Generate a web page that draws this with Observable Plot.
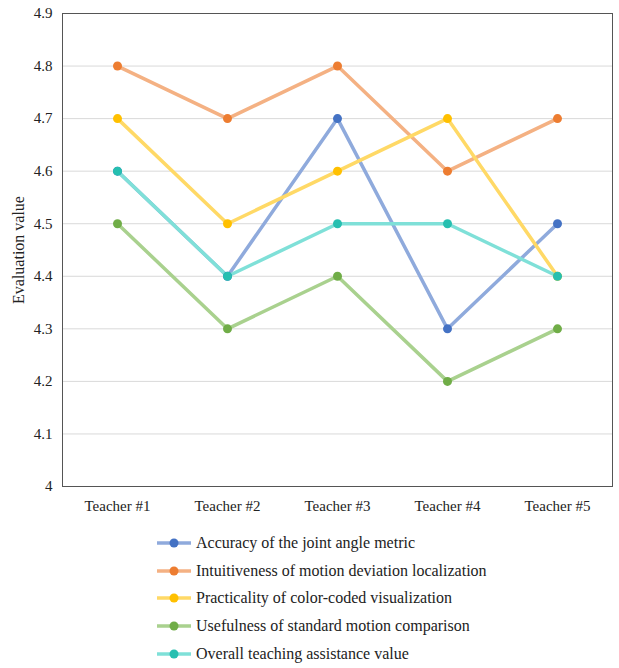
<!DOCTYPE html>
<html><head>
<script src="https://cdn.jsdelivr.net/npm/d3@7"></script>
<script src="https://cdn.jsdelivr.net/npm/@observablehq/plot@0.6"></script>
<style>
body{margin:0;background:#fff;font-family:"Liberation Serif",serif;}
#legend{margin-left:156px;margin-top:4px}
.item{display:flex;align-items:center;height:27.8px;font-size:16px;color:#222}
.item svg{margin-right:4px}
</style></head><body>
<div id="chart"></div><div id="legend"></div>
<script>
const teachers=["Teacher #1","Teacher #2","Teacher #3","Teacher #4","Teacher #5"];
const seriesNames=["Accuracy of the joint angle metric","Intuitiveness of motion deviation localization","Practicality of color-coded visualization","Usefulness of standard motion comparison","Overall teaching assistance value"];
const accuracy=[4.6,4.4,4.7,4.3,4.5];
const intuitiveness=[4.8,4.7,4.8,4.6,4.7];
const practicality=[4.7,4.5,4.6,4.7,4.4];
const usefulness=[4.5,4.3,4.4,4.2,4.3];
const overall=[4.6,4.4,4.5,4.5,4.4];
const lineColors=["#8faadc","#f4b183","#ffd966","#a9d18e","#7fe0d8"];
const dotColors=["#4472c4","#ed7d31","#ffc000","#70ad47","#26bfb0"];
const all=[accuracy,intuitiveness,practicality,usefulness,overall];
const data=[];
all.forEach((arr,s)=>arr.forEach((v,i)=>data.push({s:seriesNames[s],t:teachers[i],v})));
const chart=Plot.plot({
 width:619,height:525,marginTop:13,marginBottom:39,marginLeft:62,marginRight:7,
 style:{fontFamily:"Liberation Serif",fontSize:"15px",color:"#222"},
 x:{type:"point",domain:teachers,padding:0.5,label:null,tickSize:0,tickPadding:14},
 y:{domain:[4,4.9],ticks:d3.range(4,4.91,0.1),tickFormat:d=>d3.format("~g")(Math.round(d*10)/10),label:"Evaluation value",labelAnchor:"center",labelArrow:"none",tickSize:0,tickPadding:10,labelOffset:50},
 marks:[
  Plot.gridY(d3.range(4.1,4.91,0.1),{stroke:"#d9d9d9",strokeOpacity:1}),
  Plot.frame({stroke:"#555"}),
  ...all.map((arr,s)=>Plot.line(data.filter(d=>d.s===seriesNames[s]),{x:"t",y:"v",stroke:lineColors[s],strokeWidth:3.5})),
  ...all.map((arr,s)=>Plot.dot(data.filter(d=>d.s===seriesNames[s]),{x:"t",y:"v",fill:dotColors[s],r:4.5}))
 ]
});
chart.querySelectorAll("[aria-label='y-axis label'] text").forEach(t=>t.style.fontSize="16px");
document.getElementById("chart").append(chart);
const lg=document.getElementById("legend");
seriesNames.forEach((n,i)=>{
 lg.insertAdjacentHTML("beforeend",`<div class="item"><svg width="36" height="12"><line x1="1" x2="35" y1="6" y2="6" stroke="${lineColors[i]}" stroke-width="3.5"/><circle cx="18" cy="6" r="4.5" fill="${dotColors[i]}"/></svg>${n}</div>`);
});
</script></body></html>
